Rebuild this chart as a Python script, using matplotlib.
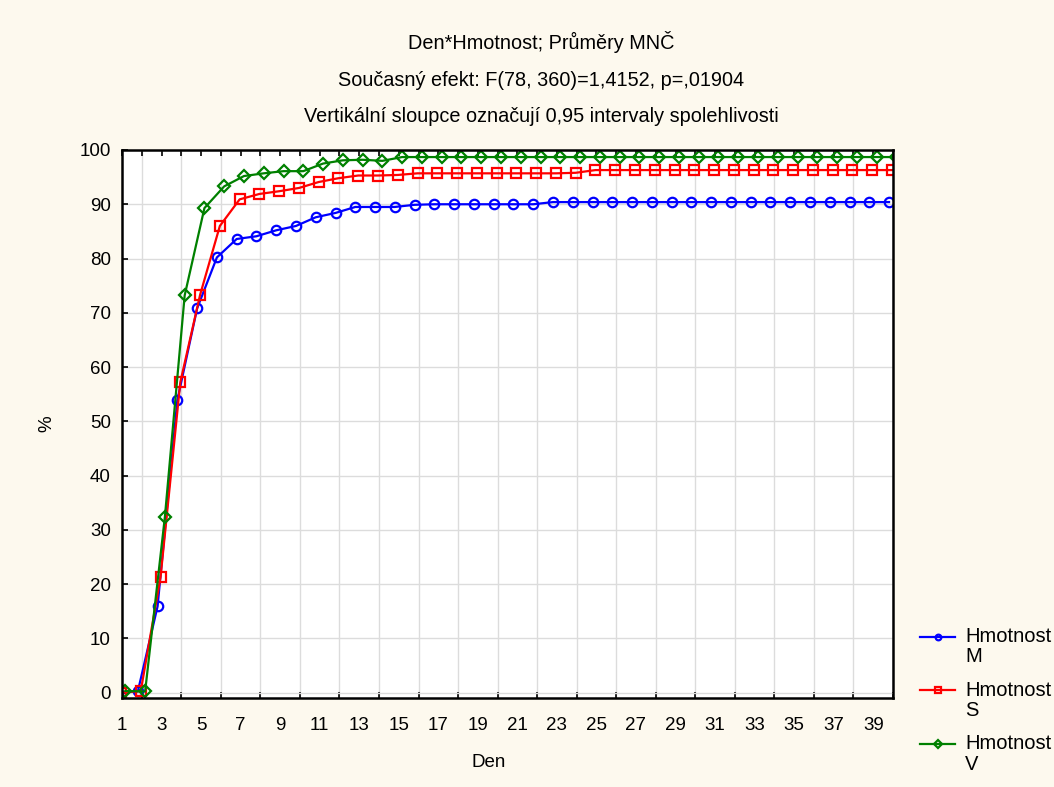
import numpy as np
import matplotlib
matplotlib.use("Agg")
import matplotlib.pyplot as plt
from matplotlib.legend_handler import HandlerLine2D
from matplotlib.transforms import Affine2D

plt.rcParams['font.family'] = ['Liberation Sans', 'DejaVu Sans']

# === DATA ===
days = np.arange(1, 41)
hm_m = [0.0, 0.2, 15.9, 53.9, 70.8, 80.2, 83.6, 84.1, 85.2, 86.0,
        87.6, 88.4, 89.5, 89.5, 89.5, 89.9, 90.0, 90.0, 90.0, 90.0,
        90.0, 90.0, 90.4, 90.4, 90.4, 90.4, 90.4, 90.4, 90.4, 90.4,
        90.4, 90.4, 90.4, 90.4, 90.4, 90.4, 90.4, 90.4, 90.4, 90.4]
hm_s = [0.0, 0.3, 21.3, 57.2, 73.3, 86.0, 90.9, 91.9, 92.4, 93.0,
        94.1, 94.8, 95.3, 95.3, 95.4, 95.7, 95.7, 95.7, 95.7, 95.7,
        95.7, 95.7, 95.7, 95.8, 96.3, 96.3, 96.3, 96.3, 96.3, 96.3,
        96.3, 96.3, 96.3, 96.3, 96.3, 96.3, 96.3, 96.3, 96.3, 96.3]
hm_v = [0.3, 0.2, 32.4, 73.2, 89.3, 93.3, 95.2, 95.7, 96.1, 96.1,
        97.5, 98.1, 98.2, 98.0, 98.7, 98.7, 98.7, 98.7, 98.7, 98.7,
        98.7, 98.7, 98.7, 98.7, 98.7, 98.7, 98.7, 98.7, 98.7, 98.7,
        98.7, 98.7, 98.7, 98.7, 98.7, 98.7, 98.7, 98.7, 98.7, 98.7]
series_labels = ['Hmotnost\nM', 'Hmotnost\nS', 'Hmotnost\nV']
title_lines = ['Den*Hmotnost; Průměry MNČ',
               'Současný efekt: F(78, 360)=1,4152, p=,01904',
               'Vertikální sloupce označují 0,95 intervaly spolehlivosti']

# === STYLE ===
bg = '#fdf9ee'
styles = [dict(color='#0000ff', marker='o', offset=-0.2),
          dict(color='#ff0000', marker='s', offset=-0.05),
          dict(color='#008000', marker='D', offset=0.17)]


class FirstLineHandler(HandlerLine2D):
    # put the legend line next to the first text line, not the middle
    def create_artists(self, legend, orig_handle, xdescent, ydescent,
                       width, height, fontsize, trans):
        shifted = Affine2D().translate(0, 0.52 * fontsize) + trans
        return super().create_artists(legend, orig_handle, xdescent, ydescent,
                                      width, height, fontsize, shifted)


fig = plt.figure(figsize=(10.54, 7.87), dpi=100, facecolor=bg)
ax = fig.add_axes([122/1054, 89/787, 771/1054, 548/787])
ax.set_facecolor('white')

lines = []
for vals, st, lab in zip([hm_m, hm_s, hm_v], styles, series_labels):
    ms = 6.3 if st['marker'] == 'D' else 6.8
    ln, = ax.plot(days + st['offset'], vals, color=st['color'], marker=st['marker'],
                  markersize=ms, markerfacecolor='none', markeredgewidth=1.6,
                  linewidth=1.6, label=lab)
    lines.append(ln)

ax.set_xlim(1, 40)
ax.set_ylim(-1, 100)
ax.set_xticks(np.arange(1, 40, 2))
ax.set_xticks(np.arange(2, 41, 2), minor=True)
ax.set_yticks(np.arange(0, 101, 10))
ax.tick_params(axis='x', which='major', direction='in', bottom=False, top=True,
               length=4, width=1.2, labelsize=13.5, pad=14)
ax.tick_params(axis='x', which='minor', direction='in', bottom=True, top=True,
               length=4, width=1.2)
ax.tick_params(axis='y', which='major', direction='in', left=True, right=False,
               length=4, width=1.2, labelsize=13.5, pad=8)
ax.grid(True, axis='x', which='minor', color='#dcdcdc', linewidth=1.0)
ax.grid(True, axis='y', which='major', color='#dcdcdc', linewidth=1.0)
ax.set_axisbelow(True)
for sp in ax.spines.values():
    sp.set_linewidth(1.8)

ax.set_xlabel('Den', fontsize=13.5)
ax.xaxis.set_label_coords((489-122)/771, -0.103)
ax.set_ylabel('%', fontsize=13.5)
ax.yaxis.set_label_coords(-0.087, 0.5)

for txt, yp in zip(title_lines, [42, 81, 117]):
    fig.text(541/1054, 1 - yp/787, txt, ha='center', va='center', fontsize=14.3)

leg = ax.legend(handles=lines, loc='upper left',
                bbox_to_anchor=(920/1054, 1 - 627/787),
                bbox_transform=fig.transFigure, frameon=False, fontsize=14.5,
                handlelength=1.75, handletextpad=0.5, labelspacing=0.72,
                markerscale=0.6, borderaxespad=0, borderpad=0,
                handler_map={ln: FirstLineHandler() for ln in lines})
for t in leg.get_texts():
    t.set_linespacing(1.08)

fig.savefig('out.png', dpi=100, facecolor=bg)
